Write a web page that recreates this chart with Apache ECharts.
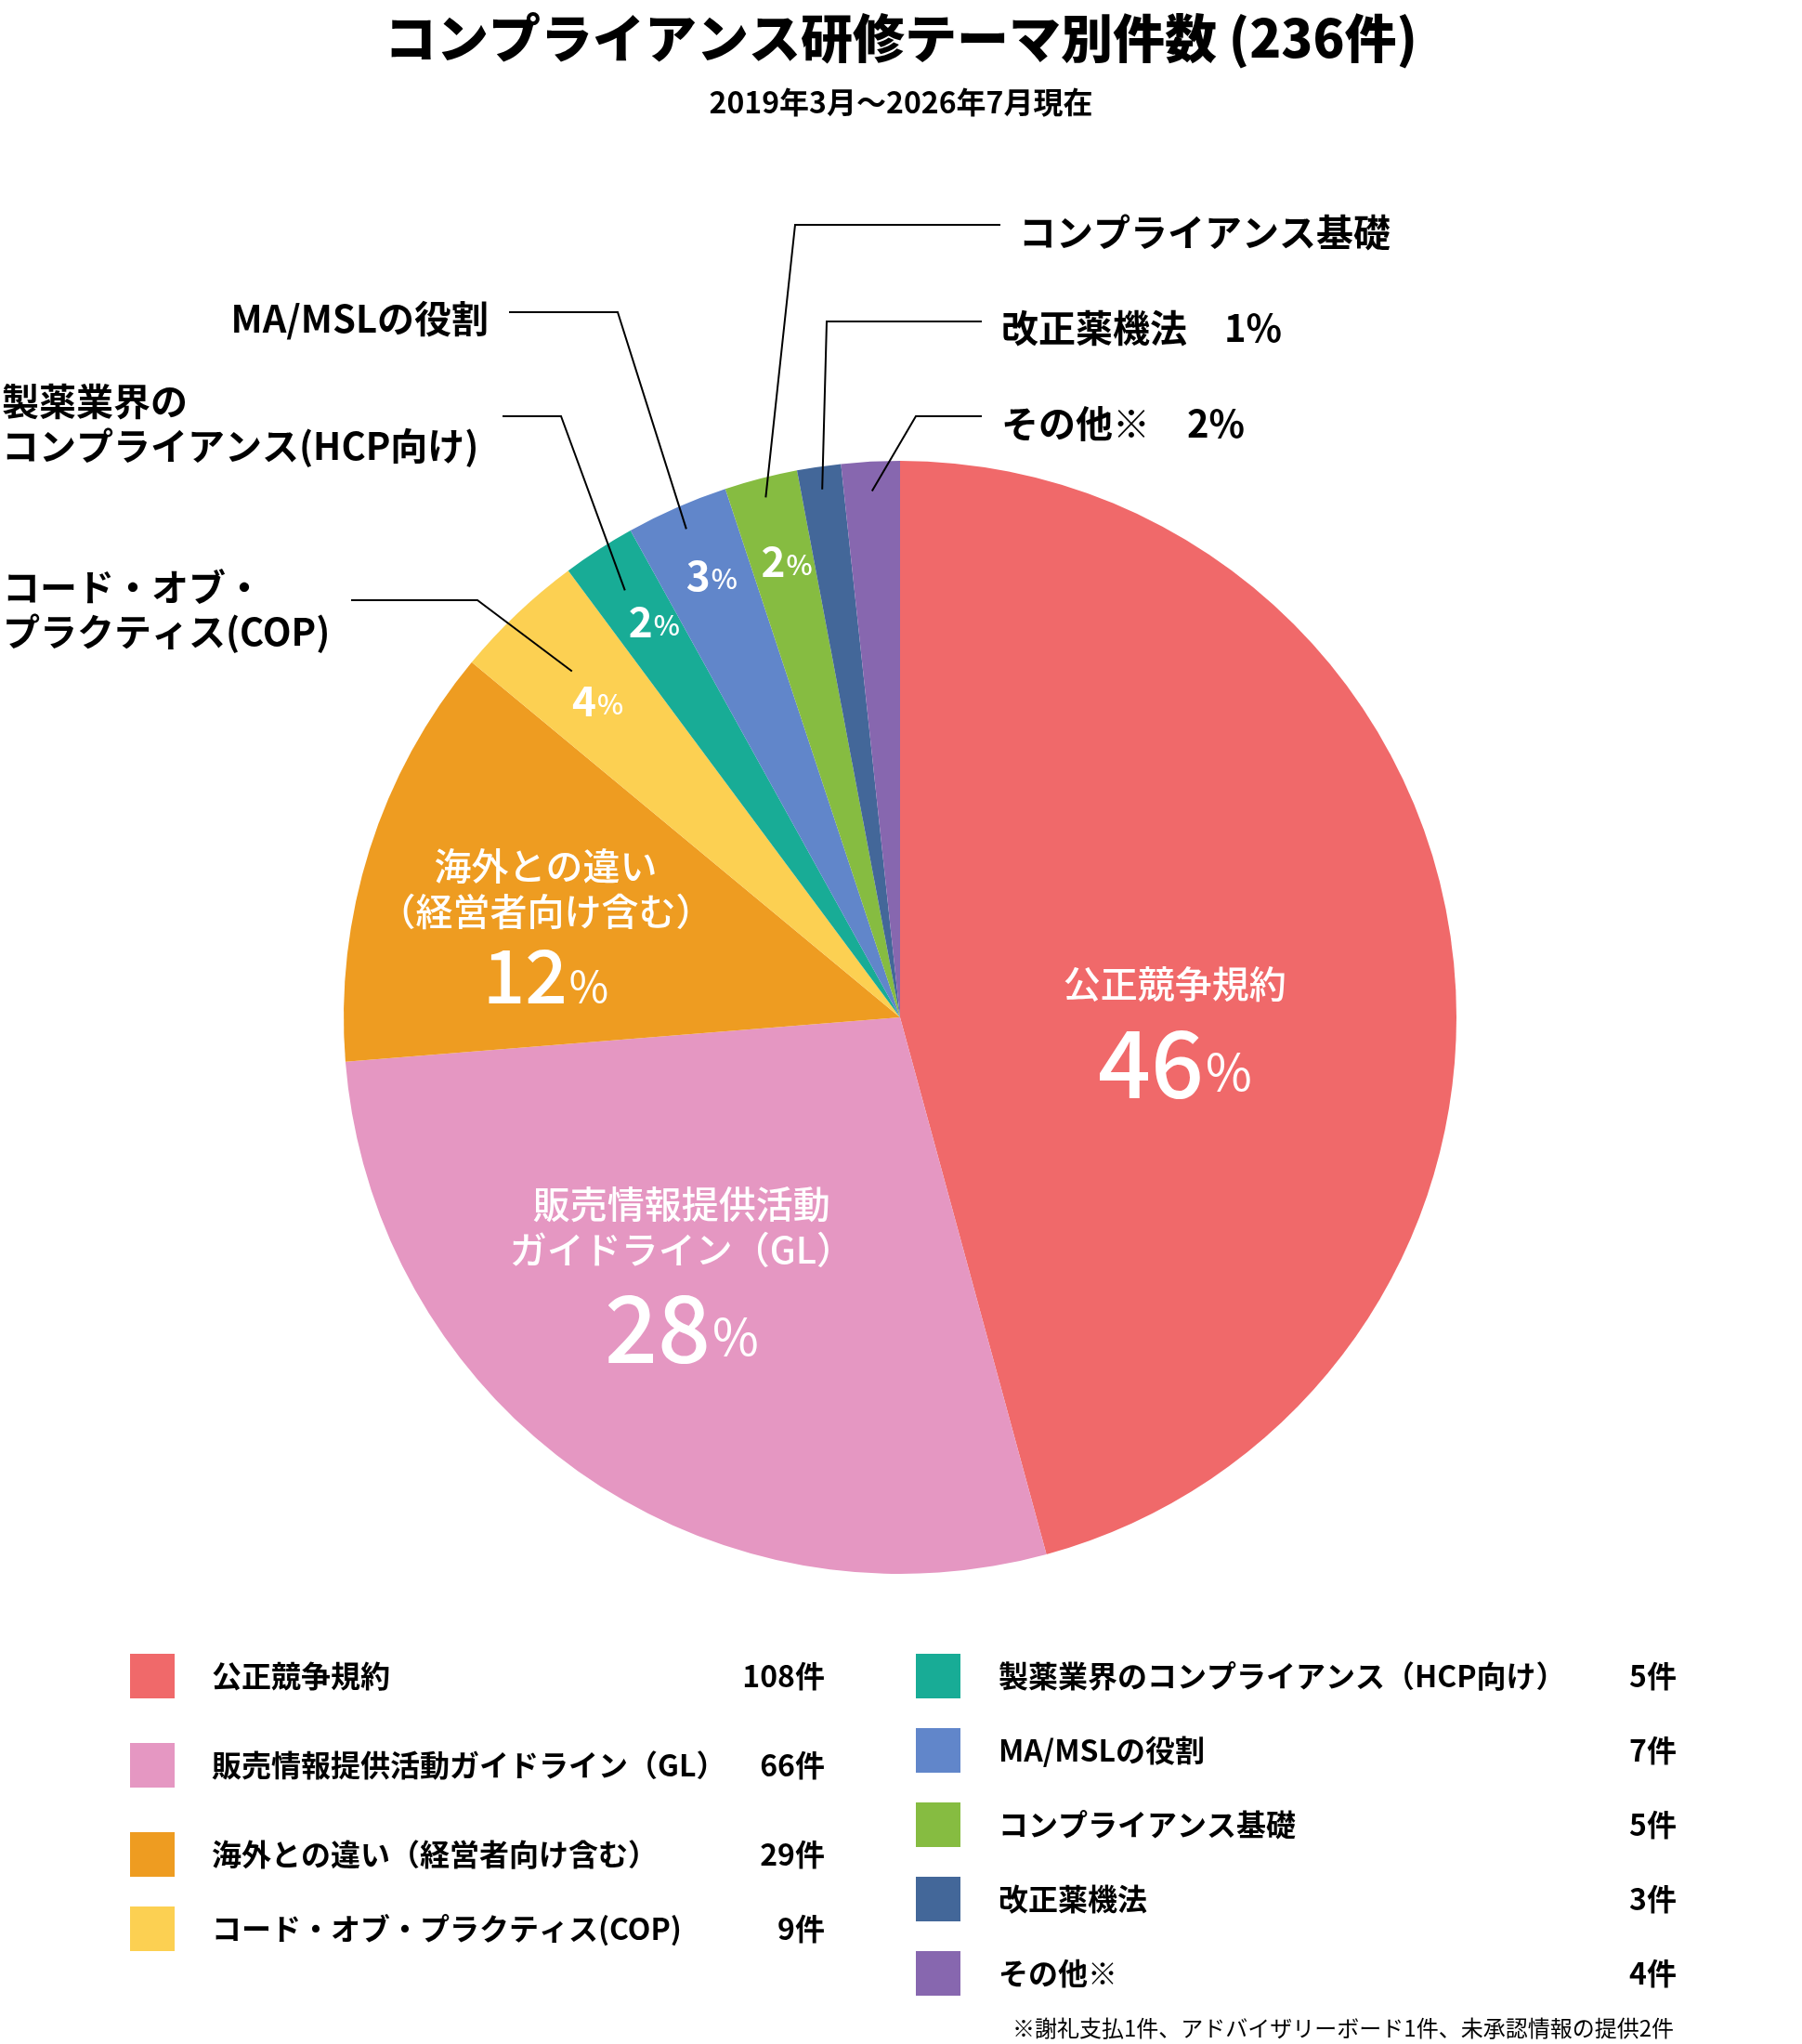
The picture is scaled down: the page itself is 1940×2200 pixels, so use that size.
<!DOCTYPE html>
<html>
<head>
<meta charset="utf-8">
<title>コンプライアンス研修テーマ別件数</title>
<script src="https://cdn.jsdelivr.net/npm/echarts@6/dist/echarts.min.js"></script>
</head>
<body style="margin: 0; background: #fff">
<div id="container" style="width: 1940px; height: 2200px"></div>
<script type="text/javascript">

// ---- data ----
const names = [
    '公正競争規約',
    '販売情報提供活動ガイドライン（GL）',
    '海外との違い（経営者向け含む）',
    'コード・オブ・プラクティス(COP)',
    '製薬業界のコンプライアンス（HCP向け）',
    'MA/MSLの役割',
    'コンプライアンス基礎',
    '改正薬機法',
    'その他※'
];
const counts = [108, 66, 29, 9, 5, 7, 5, 3, 4];
const colors = ['#F0696A', '#E597C2', '#EE9C21', '#FCD052', '#18AC96', '#6186CA', '#86BC41', '#436799', '#8767AF'];

// text inside the slices (null = only a percentage / nothing)
const innerNames = ['公正競争規約', '販売情報提供活動\nガイドライン（GL）', '海外との違い\n（経営者向け含む）', null, null, null, null, null, null];
const innerSize = ['big', 'big', 'mid', 'small', 'small', 'small', 'small', null, null];

// text of the callouts outside the pie
const calloutNames = [null, null, null, 'コード・オブ・\nプラクティス(COP)', '製薬業界の\nコンプライアンス(HCP向け)', 'MA/MSLの役割', 'コンプライアンス基礎', '改正薬機法', 'その他※'];
const calloutWithPct = [false, false, false, false, false, false, false, true, true];

const titleText = 'コンプライアンス研修テーマ別件数';
const periodText = '2019年3月～2026年7月現在';
const noteText = '※謝礼支払1件、アドバイザリーボード1件、未承認情報の提供2件';

const total = counts.reduce((a, b) => a + b, 0);
const pct = v => Math.round(v / total * 100);

// ---- layout ----
const FONT = '"Noto Sans CJK JP", "Noto Sans", sans-serif';
const CX = 969, CY = 1095, R = 599;   // pie center / radius in px

// middle angle of slice i, clockwise from 12 o'clock
function midAngle(i) {
    let before = 0;
    for (let k = 0; k < i; k++) before += counts[k];
    return (before + counts[i] / 2) / total * Math.PI * 2;
}
function polar(i, f) {
    const a = midAngle(i);
    return [CX + f * R * Math.sin(a), CY - f * R * Math.cos(a)];
}

// in-slice labels: radial fraction + nudge
const innerPlace = [
    { f: 0.5, dx: -1, dy: 64 },
    { f: 0.5, dx: -63, dy: 40 },
    { f: 0.5, dx: -96, dy: -4 },
    { f: 0.78, dx: -4, dy: -2 },
    { f: 0.834, dx: 6, dy: -6 },
    { f: 0.86, dx: 4, dy: -4 },
    { f: 0.84, dx: 4, dy: -4 }
];

// callouts: where the leader starts (radial fraction), its elbow and end, and the text anchor
const callouts = {
    3: { f: 0.857, elbow: [514, 646], end: [378, 646], x: 3, y: 656, align: 'left' },
    4: { f: 0.913, elbow: [604, 448], end: [541, 448], x: 2, y: 456, align: 'left' },
    5: { f: 0.958, elbow: [665, 336], end: [548, 336], x: 526, y: 343, align: 'right' },
    6: { f: 0.965, elbow: [856, 242], end: [1077, 242], x: 1097, y: 250, align: 'left' },
    7: { f: 0.959, elbow: [890, 346], end: [1057, 346], x: 1078, y: 353, align: 'left' },
    8: { f: 0.947, elbow: [986, 448], end: [1057, 448], x: 1078, y: 456, align: 'left' }
};

const txt = (size, weight, extra) => Object.assign({ color: '#fff', fontFamily: FONT, fontSize: size, fontWeight: weight }, extra);

const chart = echarts.init(document.getElementById('container'), null, { renderer: 'canvas' });

function legendText(nameWidth, pad) {
    return {
        color: '#000', fontFamily: FONT, fontSize: 32, fontWeight: 'bold',
        rich: {
            n: { color: '#000', fontFamily: FONT, fontSize: 32, fontWeight: 'bold', width: nameWidth, padding: [0, 0, 0, pad] },
            v: { color: '#000', fontFamily: FONT, fontSize: 32, fontWeight: 'bold', width: 105, align: 'right' }
        }
    };
}
const legendFormatter = name => `{n|${name}}{v|${counts[names.indexOf(name)]}件}`;
const legendData = idx => idx.map(i => ({ name: names[i], itemStyle: { color: colors[i] } }));
const legendBase = {
    orient: 'vertical', icon: 'rect', itemWidth: 48, itemHeight: 48, padding: 0,
    selectedMode: false, formatter: legendFormatter,
    itemStyle: { borderWidth: 0 }
};

chart.setOption({
    backgroundColor: '#fff',
    animation: false,
    title: [
        {
            text: `${titleText} (${total}件)`,
            subtext: periodText,
            left: 'center', top: 9, itemGap: 19, padding: 0,
            textStyle: { fontFamily: FONT, fontSize: 56, fontWeight: 900, color: '#000', lineHeight: 64 },
            subtextStyle: { fontFamily: FONT, fontSize: 32, fontWeight: 'bold', color: '#000', lineHeight: 36 }
        },
        {
            text: noteText,
            right: 138, top: 2168, padding: 0,
            textStyle: { fontFamily: FONT, fontSize: 24, fontWeight: 'normal', color: '#000', lineHeight: 30 }
        }
    ],
    legend: [
        Object.assign({}, legendBase, { left: 140, top: 1780, itemGap: 48, data: legendData([0, 1, 2]), textStyle: legendText(555, 35) }),
        Object.assign({}, legendBase, { left: 140, top: 2052, itemGap: 48, data: legendData([3]), textStyle: legendText(555, 35) }),
        Object.assign({}, legendBase, { left: 986, top: 1780, itemGap: 32, data: legendData([4, 5, 6, 7, 8]), textStyle: legendText(625, 36) })
    ],
    series: [
        {
            // slices + labels inside them
            type: 'pie',
            center: [CX, CY],
            radius: R,
            startAngle: 90,
            clockwise: true,
            avoidLabelOverlap: false,
            silent: true,
            itemStyle: { borderWidth: 0 },
            emphasis: { disabled: true },
            label: {
                show: true,
                position: 'inside',
                color: '#fff',
                fontFamily: FONT,
                formatter: p => {
                    const i = p.dataIndex;
                    const v = pct(counts[i]);
                    if (innerSize[i] === 'big') return `{name|${innerNames[i]}}\n{big|${v}}{bigp|%}`;
                    if (innerSize[i] === 'mid') return `{name|${innerNames[i]}}\n{mid|${v}}{midp|%}`;
                    return `{small|${v}}{smallp|%}`;
                },
                rich: {
                    name: txt(40, 500, { lineHeight: 49 }),
                    big: txt(100, 500, { lineHeight: 120 }),
                    bigp: txt(54, 'normal', { lineHeight: 54, padding: [19, 0, 0, 2] }),
                    mid: txt(80, 500, { lineHeight: 88 }),
                    midp: txt(46, 'normal', { lineHeight: 46, padding: [24, 0, 0, 2] }),
                    small: txt(44, 'bold', { lineHeight: 52 }),
                    smallp: txt(30, 500, { lineHeight: 30, padding: [7, 0, 0, 1] })
                }
            },
            labelLine: { show: false },
            labelLayout: p => {
                const s = innerPlace[p.dataIndex];
                if (!s) return {};
                const pt = polar(p.dataIndex, s.f);
                return { x: pt[0] + s.dx, y: pt[1] + s.dy, align: 'center', verticalAlign: 'middle' };
            },
            data: names.map((n, i) => ({
                name: n,
                value: counts[i],
                itemStyle: { color: colors[i] },
                label: { show: innerSize[i] != null }
            }))
        },
        {
            // transparent copy that carries the callouts
            type: 'pie',
            center: [CX, CY],
            radius: R,
            startAngle: 90,
            clockwise: true,
            avoidLabelOverlap: false,
            silent: true,
            z: 3,
            itemStyle: { color: 'rgba(0,0,0,0)', borderWidth: 0 },
            emphasis: { disabled: true },
            label: {
                show: true,
                position: 'outside',
                color: '#000',
                fontFamily: FONT,
                fontSize: 40,
                fontWeight: 'bold',
                lineHeight: 48,
                formatter: p => {
                    const i = p.dataIndex;
                    return calloutWithPct[i] ? `${calloutNames[i]}　${pct(counts[i])}%` : calloutNames[i];
                }
            },
            labelLine: { show: true, smooth: false, lineStyle: { color: '#000', width: 2 } },
            labelLayout: p => {
                const c = callouts[p.dataIndex];
                if (!c) return {};
                const start = polar(p.dataIndex, c.f);
                return {
                    x: c.x, y: c.y, align: c.align, verticalAlign: 'middle',
                    labelLinePoints: [start, c.elbow.slice(), c.end.slice()]
                };
            },
            data: names.map((n, i) => ({
                name: n,
                value: counts[i],
                label: { show: calloutNames[i] != null },
                labelLine: { show: calloutNames[i] != null }
            }))
        }
    ]
});

</script>
</body>
</html>
